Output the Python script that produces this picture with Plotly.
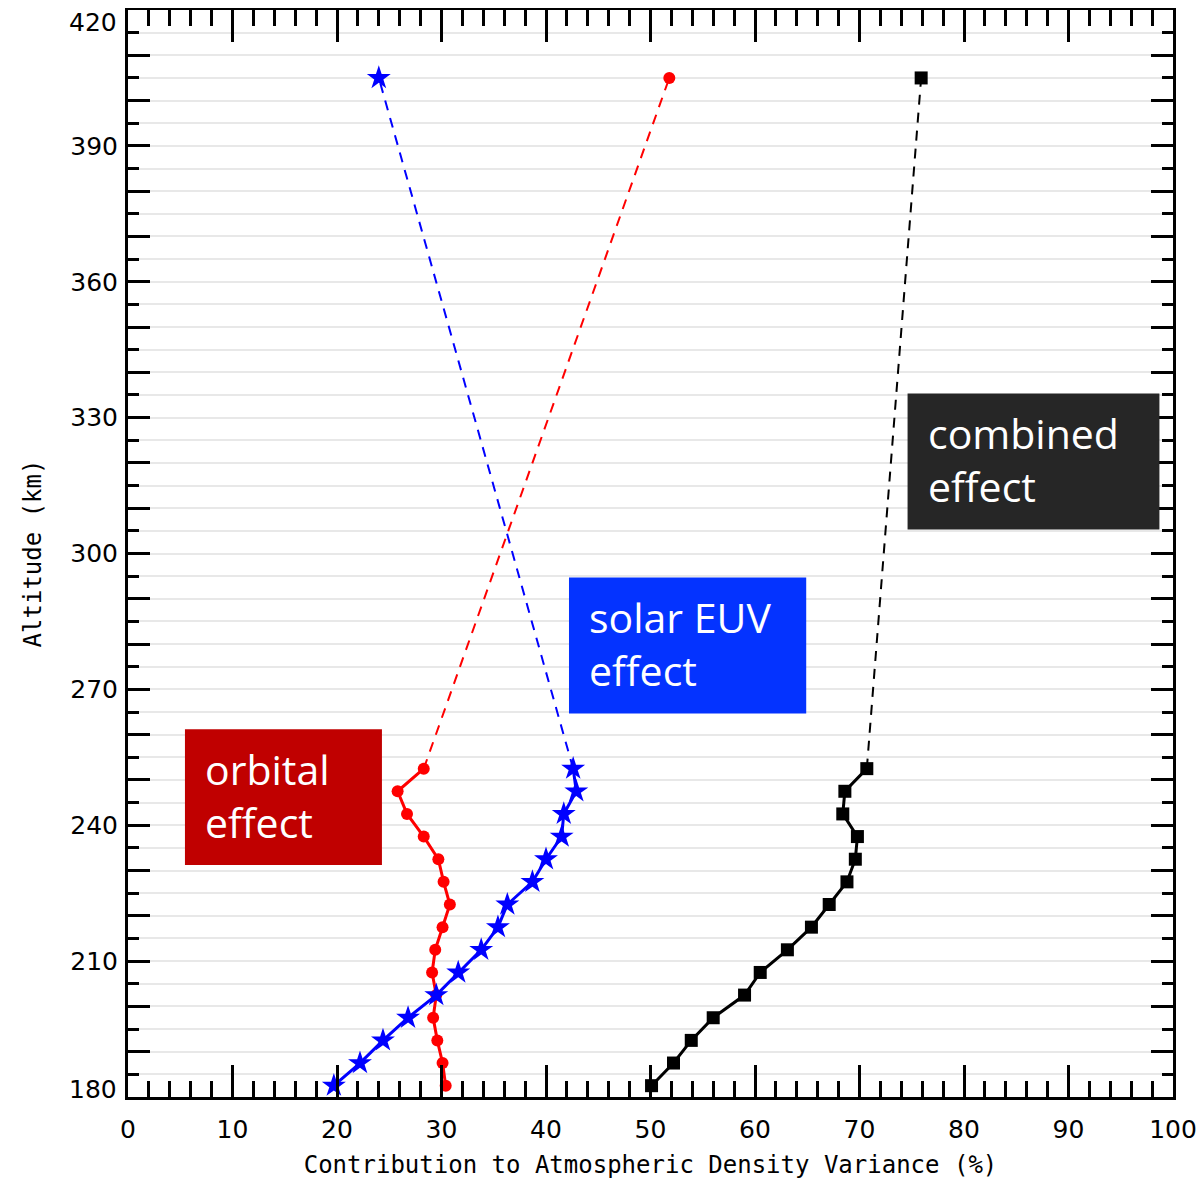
import plotly.graph_objects as go

# Altitude levels (km)
altitude = [182.5, 187.5, 192.5, 197.5, 202.5, 207.5, 212.5, 217.5, 222.5,
            227.5, 232.5, 237.5, 242.5, 247.5, 252.5, 405]

# Contributions (%)
orbital = [30.4, 30.1, 29.6, 29.2, 29.5, 29.1, 29.4, 30.1, 30.8,
           30.2, 29.7, 28.3, 26.7, 25.8, 28.3, 51.8]
solar_euv = [19.7, 22.2, 24.4, 26.8, 29.5, 31.6, 33.8, 35.4, 36.3,
             38.7, 40.0, 41.5, 41.7, 42.9, 42.6, 24.0]
combined = [50.1, 52.2, 53.9, 56.0, 59.0, 60.5, 63.1, 65.4, 67.1,
            68.8, 69.6, 69.8, 68.4, 68.6, 70.7, 75.9]

x_ticks = [0, 10, 20, 30, 40, 50, 60, 70, 80, 90, 100]
y_label_ticks = [180, 210, 240, 270, 300, 330, 360, 390, 420]
y_major_ticks = list(range(180, 421, 10))

# Label boxes: (text, x0, x1, y0, y1, color)
box_texts = ["orbital<br>effect", "solar EUV<br>effect", "combined<br>effect"]
box_colors = ["#C00000", "#0433FF", "#262626"]
box_x = [(5.45, 24.3), (42.2, 64.9), (74.6, 98.7)]
box_y = [(231.2, 261.2), (264.7, 294.7), (305.3, 335.3)]

series = [
    (orbital, "#FF0000", dict(symbol="circle", size=12)),
    (solar_euv, "#0000FF", dict(symbol="star", size=18)),
    (combined, "#000000", dict(symbol="square", size=13)),
]

fig = go.Figure()
for vals, col, mk in series:
    fig.add_trace(go.Scatter(
        x=vals[:-1], y=altitude[:-1], mode="lines+markers",
        line=dict(color=col, width=3),
        marker=dict(color=col, line=dict(width=0), **mk),
        showlegend=False))
    fig.add_trace(go.Scatter(
        x=vals[-2:], y=altitude[-2:], mode="lines",
        line=dict(color=col, width=2, dash="10px,8px"),
        showlegend=False))
    fig.add_trace(go.Scatter(
        x=vals[-1:], y=altitude[-1:], mode="markers",
        marker=dict(color=col, line=dict(width=0), **mk),
        showlegend=False))

for txt, col, (x0, x1), (y0, y1) in zip(box_texts, box_colors, box_x, box_y):
    fig.add_shape(type="rect", xref="x", yref="y", x0=x0, x1=x1, y0=y0, y1=y1,
                  fillcolor=col, line=dict(width=0), layer="above")
    fig.add_annotation(x=x0 + 1.75, y=(y0 + y1) / 2, xref="x", yref="y",
                       text=txt, showarrow=False, xanchor="left", yanchor="middle",
                       align="left", yshift=2,
                       font=dict(family="Open Sans", size=41, color="white"))

tick_font = dict(family="DejaVu Sans", size=25, color="black")
title_font = dict(family="DejaVu Sans Mono", size=24, color="black")

# end labels of the y axis are nudged inward (as in the reference)
edge_labels = [y_label_ticks[0], y_label_ticks[-1]]
for v, shift in zip(edge_labels, [8, -12]):
    fig.add_annotation(x=0, xref="paper", y=v, yref="y", text=str(v),
                       showarrow=False, xanchor="right", yanchor="middle",
                       xshift=-9, yshift=shift, font=tick_font)

fig.update_layout(
    width=1196, height=1175,
    margin=dict(l=120, r=31, t=2, b=86, autoexpand=False),
    plot_bgcolor="white", paper_bgcolor="white",
    font=tick_font,
    xaxis=dict(
        range=[0, 100], tickvals=x_ticks, ticktext=[str(v) for v in x_ticks],
        ticks="inside", ticklen=32, tickwidth=2.5, tickcolor="black",
        minor=dict(dtick=2, ticks="inside", ticklen=16, tickwidth=2.5, tickcolor="black"),
        showline=True, linewidth=3, linecolor="black", mirror="allticks",
        showgrid=False, zeroline=False, ticklabelstandoff=8, automargin=False,
        tickfont=tick_font,
        title=dict(text="Contribution to Atmospheric Density Variance (%)",
                   font=title_font, standoff=14),
    ),
    yaxis=dict(
        range=[180, 420], tickvals=y_major_ticks,
        ticktext=[str(v) if (v in y_label_ticks and v not in edge_labels) else ""
                  for v in y_major_ticks],
        ticks="inside", ticklen=22, tickwidth=2.5, tickcolor="black",
        minor=dict(dtick=5, tick0=180, ticks="inside", ticklen=11, tickwidth=2.5,
                   tickcolor="black", showgrid=True, gridcolor="#E8E8E8", gridwidth=1.5),
        showline=True, linewidth=3, linecolor="black", mirror="allticks",
        showgrid=True, gridcolor="#E8E8E8", gridwidth=1.5, zeroline=False,
        ticklabelstandoff=2, automargin=False, tickfont=tick_font,
        title=dict(text="Altitude (km)", font=title_font, standoff=22),
    ),
)

fig.write_html("out.html")
